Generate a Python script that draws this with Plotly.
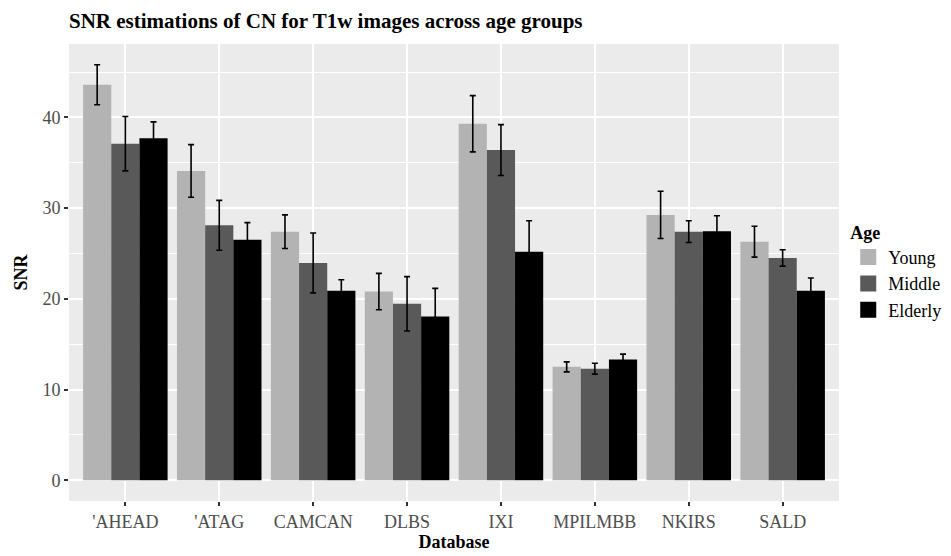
import plotly.graph_objects as go

databases = ["'AHEAD", "'ATAG", "CAMCAN", "DLBS", "IXI", "MPILMBB", "NKIRS", "SALD"]
age_groups = ["Young", "Middle", "Elderly"]

snr_young = [43.6, 34.1, 27.4, 20.8, 39.3, 12.5, 29.25, 26.3]
snr_middle = [37.1, 28.1, 23.95, 19.45, 36.4, 12.3, 27.4, 24.5]
snr_elderly = [37.7, 26.5, 20.9, 18.05, 25.2, 13.3, 27.45, 20.9]

err_young = [2.2, 2.9, 1.85, 2.0, 3.1, 0.55, 2.6, 1.7]
err_middle = [3.0, 2.75, 3.3, 3.0, 2.8, 0.6, 1.2, 0.9]
err_elderly = [1.8, 1.9, 1.2, 3.1, 3.4, 0.6, 1.7, 1.4]

colors = ["#b3b3b3", "#595959", "#000000"]
values = [snr_young, snr_middle, snr_elderly]
errors = [err_young, err_middle, err_elderly]

FONT = "Liberation Serif, Times New Roman, serif"

fig = go.Figure()
for name, vals, errs, col in zip(age_groups, values, errors, colors):
    fig.add_trace(go.Bar(
        x=databases, y=vals, name=name, legendgroup=name, showlegend=False,
        marker=dict(color=col, line=dict(width=0)),
        error_y=dict(type="data", array=errs, visible=True,
                     color="#000000", thickness=1.6, width=3),
    ))
# legend keys (large squares like ggplot)
for name, col in zip(age_groups, colors):
    fig.add_trace(go.Scatter(
        x=[None], y=[None], mode="markers", name=name, legendgroup=name,
        marker=dict(symbol="square", size=22, color=col), showlegend=True,
    ))

# page body has an 8px margin; compensate so the panel lands where it should
fig.update_layout(
    width=943, height=548,
    barmode="group", bargap=0.1, bargroupgap=0,
    paper_bgcolor="white", plot_bgcolor="#ebebeb",
    margin=dict(l=61, r=112, t=36, b=55, autoexpand=False),
    font=dict(family=FONT, size=18, color="#4d4d4d"),
    title=dict(text="<b>SNR estimations of CN for T1w images across age groups</b>",
               x=0, xref="paper", xanchor="left", y=1, yref="container",
               yanchor="top", pad=dict(t=5),
               font=dict(family=FONT, size=21, color="#000000")),
    legend=dict(title=dict(text="<b>Age</b>", font=dict(size=18, color="#000000")),
                x=1.012, xanchor="left", y=0.625, yanchor="top",
                font=dict(size=18, color="#000000"), itemsizing="trace",
                bgcolor="rgba(0,0,0,0)", tracegroupgap=0),
    showlegend=True,
)

fig.update_xaxes(
    title=dict(text="<b>Database</b>", font=dict(family=FONT, size=18, color="#000000"), standoff=4),
    range=[-0.6, 7.6], showgrid=True, gridcolor="white", gridwidth=1.5,
    ticks="outside", ticklen=4, tickwidth=1.5, tickcolor="#333333",
    tickfont=dict(size=18, color="#4d4d4d"), zeroline=False, showline=False,
    automargin=False,
)
fig.update_yaxes(
    title=dict(text="<b>SNR</b>", font=dict(family=FONT, size=18, color="#000000"), standoff=10),
    range=[-2.29, 48.09], tickvals=[0, 10, 20, 30, 40],
    showgrid=True, gridcolor="white", gridwidth=1.5,
    minor=dict(tickvals=[5, 15, 25, 35, 45], showgrid=True, gridcolor="white", gridwidth=0.6),
    ticks="outside", ticklen=4, tickwidth=1.5, tickcolor="#333333",
    tickfont=dict(size=18, color="#4d4d4d"), zeroline=False, showline=False,
    automargin=False,
)

fig.write_html("out.html")
